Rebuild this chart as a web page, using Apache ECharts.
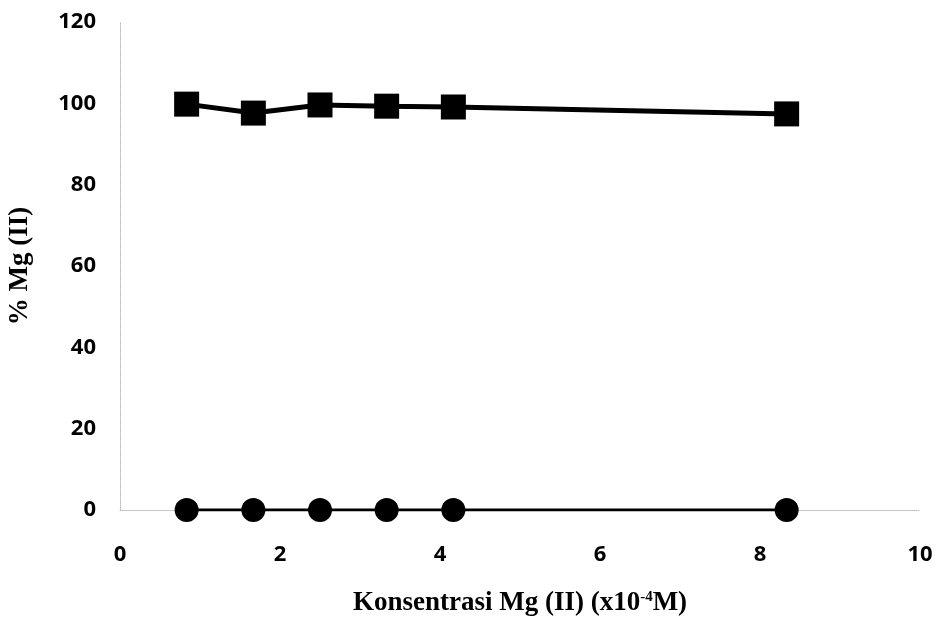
<!DOCTYPE html>
<html>
<head>
<meta charset="utf-8">
<script src="https://cdn.jsdelivr.net/npm/echarts@6/dist/echarts.min.js"></script>
<style>
  html, body { margin: 0; padding: 0; background: #fff; }
  #chart { width: 940px; height: 624px; }
</style>
</head>
<body>
<div id="chart"></div>
<script>
// konsentrasi Mg (II) x10^-4 M
var konsentrasi = [0.833, 1.667, 2.5, 3.333, 4.167, 8.333];
// % Mg (II) - kotak (atas) dan bulat (bawah)
var persenAtas = [99.8, 97.6, 99.6, 99.3, 99.1, 97.4];
var persenBawah = [0, 0, 0, 0, 0, 0];
var yTicks = [0, 20, 40, 60, 80, 100, 120];
var xTicks = [0, 2, 4, 6, 8, 10];

var toPairs = function (ys) {
  return konsentrasi.map(function (x, i) { return [x, ys[i]]; });
};

var myChart = echarts.init(document.getElementById('chart'));
myChart.setOption({
  animation: false,
  grid: { left: 120, right: 20, top: 22, bottom: 114, containLabel: false, outerBoundsMode: 'none' },
  xAxis: {
    type: 'value',
    min: xTicks[0],
    max: xTicks[xTicks.length - 1],
    interval: 2,
    name: 'Konsentrasi Mg (II) (x10{sup|-4}M)',
    nameLocation: 'middle',
    nameGap: 80,
    nameTextStyle: {
      fontFamily: 'Liberation Serif',
      fontWeight: 'bold',
      fontSize: 27,
      color: '#000',
      rich: {
        sup: { fontFamily: 'Liberation Serif', fontWeight: 'bold', fontSize: 15, verticalAlign: 'top', padding: [0, 0, 10, 0] }
      }
    },
    axisLine: { show: true, lineStyle: { color: '#bbb', type: 'dotted', width: 1 } },
    axisTick: { show: false },
    splitLine: { show: false },
    axisLabel: {
      margin: 34,
      fontFamily: 'Open Sans',
      fontWeight: 'bold',
      fontSize: 22,
      color: '#000'
    }
  },
  yAxis: {
    type: 'value',
    min: yTicks[0],
    max: yTicks[yTicks.length - 1],
    interval: 20,
    name: '% Mg (II)',
    nameLocation: 'middle',
    nameGap: 86,
    nameRotate: 90,
    nameTextStyle: {
      fontFamily: 'Liberation Serif',
      fontWeight: 'bold',
      fontSize: 27,
      color: '#000'
    },
    axisLine: { show: true, lineStyle: { color: '#bbb', type: 'dotted', width: 1 } },
    axisTick: { show: false },
    splitLine: { show: false },
    axisLabel: {
      margin: 24,
      fontFamily: 'Open Sans',
      fontWeight: 'bold',
      fontSize: 22,
      color: '#000'
    }
  },
  series: [
    {
      name: 'atas',
      type: 'line',
      data: toPairs(persenAtas),
      symbol: 'rect',
      symbolSize: 25,
      lineStyle: { color: '#000', width: 5 },
      itemStyle: { color: '#000' }
    },
    {
      name: 'bawah',
      type: 'line',
      data: toPairs(persenBawah),
      symbol: 'circle',
      symbolSize: 24,
      lineStyle: { color: '#000', width: 3 },
      itemStyle: { color: '#000' }
    }
  ]
});
</script>
</body>
</html>
